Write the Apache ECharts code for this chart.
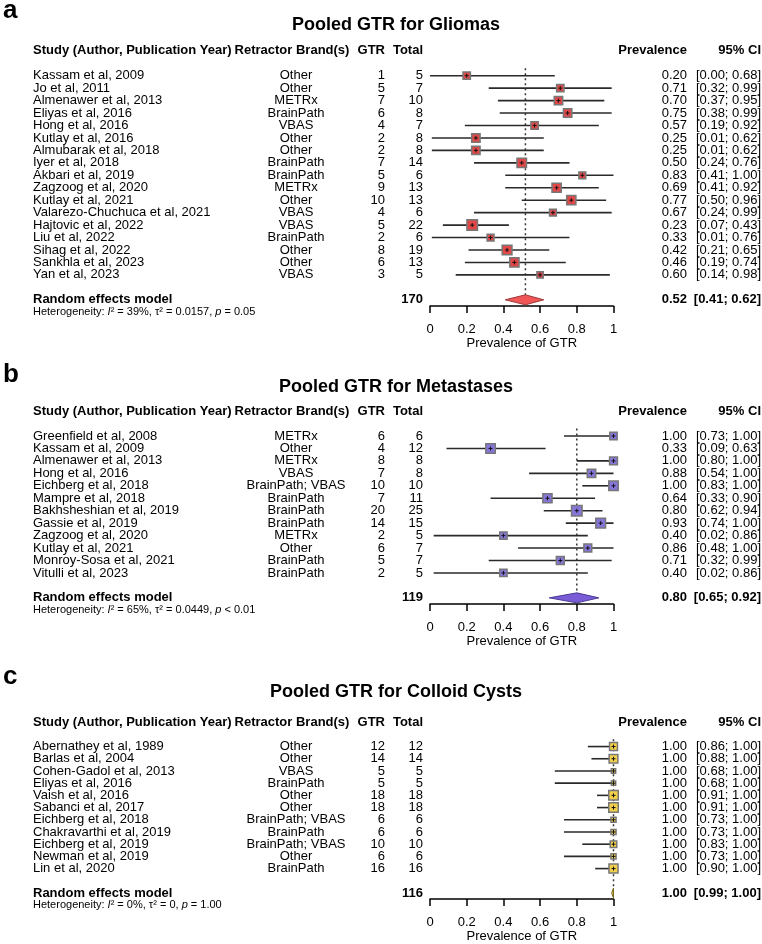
<!DOCTYPE html>
<html>
<head>
<meta charset="utf-8">
<title>Pooled GTR forest plots</title>
<script src="https://cdn.jsdelivr.net/npm/echarts@6/dist/echarts.min.js"></script>
<style>
  html, body { margin: 0; padding: 0; background: #fff; }
  #main { width: 762px; height: 944px; }
</style>
</head>
<body>
<div id="main"></div>
<script>
  // a: gliomas
  var gliomaStudies = ['Kassam et al, 2009', 'Jo et al, 2011', 'Almenawer et al, 2013', 'Eliyas et al, 2016',
    'Hong et al, 2016', 'Kutlay et al, 2016', 'Almubarak et al, 2018', 'Iyer et al, 2018', 'Akbari et al, 2019',
    'Zagzoog et al, 2020', 'Kutlay et al, 2021', 'Valarezo-Chuchuca et al, 2021', 'Hajtovic et al, 2022',
    'Liu et al, 2022', 'Sihag et al, 2022', 'Sankhla et al, 2023', 'Yan et al, 2023']
  var gliomaBrands = ['Other', 'Other', 'METRx', 'BrainPath', 'VBAS', 'Other', 'Other', 'BrainPath', 'BrainPath',
    'METRx', 'Other', 'VBAS', 'VBAS', 'BrainPath', 'Other', 'Other', 'VBAS']
  var gliomaGtr = [1, 5, 7, 6, 4, 2, 2, 7, 5, 9, 10, 4, 5, 2, 8, 6, 3]
  var gliomaTotal = [5, 7, 10, 8, 7, 8, 8, 14, 6, 13, 13, 6, 22, 6, 19, 13, 5]
  var gliomaPrev = [0.20, 0.71, 0.70, 0.75, 0.57, 0.25, 0.25, 0.50, 0.83, 0.69, 0.77, 0.67, 0.23, 0.33, 0.42, 0.46, 0.60]
  var gliomaLower = [0.00, 0.32, 0.37, 0.38, 0.19, 0.01, 0.01, 0.24, 0.41, 0.41, 0.50, 0.24, 0.07, 0.01, 0.21, 0.19, 0.14]
  var gliomaUpper = [0.68, 0.99, 0.95, 0.99, 0.92, 0.62, 0.62, 0.76, 1.00, 0.92, 0.96, 0.99, 0.43, 0.76, 0.65, 0.74, 0.98]
  var gliomaWeight = [4.6, 4.6, 6.0, 6.0, 4.6, 6.0, 6.0, 7.6, 4.0, 7.2, 7.2, 4.0, 9.4, 4.0, 8.1, 7.2, 3.4]
  var gliomaPooled = [0.52, 0.41, 0.62]
  var gliomaHet = ['39%', '0.0157', '= 0.05']

  // b: metastases
  var metStudies = ['Greenfield et al, 2008', 'Kassam et al, 2009', 'Almenawer et al, 2013', 'Hong et al, 2016',
    'Eichberg et al, 2018', 'Mampre et al, 2018', 'Bakhsheshian et al, 2019', 'Gassie et al, 2019',
    'Zagzoog et al, 2020', 'Kutlay et al, 2021', 'Monroy-Sosa et al, 2021', 'Vitulli et al, 2023']
  var metBrands = ['METRx', 'Other', 'METRx', 'VBAS', 'BrainPath; VBAS', 'BrainPath', 'BrainPath', 'BrainPath',
    'METRx', 'Other', 'BrainPath', 'BrainPath']
  var metGtr = [6, 4, 8, 7, 10, 7, 20, 14, 2, 6, 5, 2]
  var metTotal = [6, 12, 8, 8, 10, 11, 25, 15, 5, 7, 7, 5]
  var metPrev = [1.00, 0.33, 1.00, 0.88, 1.00, 0.64, 0.80, 0.93, 0.40, 0.86, 0.71, 0.40]
  var metLower = [0.73, 0.09, 0.80, 0.54, 0.83, 0.33, 0.62, 0.74, 0.02, 0.48, 0.32, 0.02]
  var metUpper = [1.00, 0.63, 1.00, 1.00, 1.00, 0.90, 0.94, 1.00, 0.86, 1.00, 0.99, 0.86]
  var metWeight = [6.1, 10.1, 7.0, 8.0, 10.1, 9.5, 12.5, 10.7, 6.1, 7.0, 7.0, 6.1]
  var metPooled = [0.80, 0.65, 0.92]
  var metHet = ['65%', '0.0449', '< 0.01']

  // c: colloid cysts
  var cystStudies = ['Abernathey et al, 1989', 'Barlas et al, 2004', 'Cohen-Gadol et al, 2013', 'Eliyas et al, 2016',
    'Vaish et al, 2016', 'Sabanci et al, 2017', 'Eichberg et al, 2018', 'Chakravarthi et al, 2019',
    'Eichberg et al, 2019', 'Newman et al, 2019', 'Lin et al, 2020']
  var cystBrands = ['Other', 'Other', 'VBAS', 'BrainPath', 'Other', 'Other', 'BrainPath; VBAS', 'BrainPath',
    'BrainPath; VBAS', 'Other', 'BrainPath']
  var cystGtr = [12, 14, 5, 5, 18, 18, 6, 6, 10, 6, 16]
  var cystTotal = [12, 14, 5, 5, 18, 18, 6, 6, 10, 6, 16]
  var cystPrev = [1.00, 1.00, 1.00, 1.00, 1.00, 1.00, 1.00, 1.00, 1.00, 1.00, 1.00]
  var cystLower = [0.86, 0.88, 0.68, 0.68, 0.91, 0.91, 0.73, 0.73, 0.83, 0.73, 0.90]
  var cystUpper = [1.00, 1.00, 1.00, 1.00, 1.00, 1.00, 1.00, 1.00, 1.00, 1.00, 1.00]
  var cystWeight = [11.2, 13.6, 3.4, 3.4, 16.1, 16.1, 4.7, 4.7, 7.6, 4.7, 14.6]
  var cystPooled = [1.00, 0.99, 1.00]
  var cystHet = ['0%', '0', '= 1.00']

  var FONT = "'Liberation Sans', Arial, Helvetica, sans-serif"
  // x positions of the text columns
  var COL = { study: 33, brand: 296, gtr: 385, total: 423, prev: 687, ci: 761 }
  var PLOT_LEFT = 430
  var PLOT_WIDTH = 183.5

  var panels = [
    {
      letter: 'a', title: 'Pooled GTR for Gliomas', letterY: 11, titleY: 25, y0: 75.7, step: 12.45, box: 10.5,
      fill: '#e24848', diamond: '#f05656', edge: '#9c3a3a',
      studies: gliomaStudies, brands: gliomaBrands, gtr: gliomaGtr, total: gliomaTotal,
      prev: gliomaPrev, lower: gliomaLower, upper: gliomaUpper, weight: gliomaWeight,
      pooled: gliomaPooled, het: gliomaHet,
    },
    {
      letter: 'b', title: 'Pooled GTR for Metastases', letterY: 375, titleY: 387, y0: 436, step: 12.45, box: 10.5,
      fill: '#8676da', diamond: '#7a5cd6', edge: '#4a3a94',
      studies: metStudies, brands: metBrands, gtr: metGtr, total: metTotal,
      prev: metPrev, lower: metLower, upper: metUpper, weight: metWeight,
      pooled: metPooled, het: metHet,
    },
    {
      letter: 'c', title: 'Pooled GTR for Colloid Cysts', letterY: 677, titleY: 692, y0: 746.7, step: 12.35, box: 9.5,
      fill: '#f3d048', diamond: '#f3d048', edge: '#7a6a20',
      studies: cystStudies, brands: cystBrands, gtr: cystGtr, total: cystTotal,
      prev: cystPrev, lower: cystLower, upper: cystUpper, weight: cystWeight,
      pooled: cystPooled, het: cystHet,
    },
  ]

  function txt(str, x, y, align, bold, size) {
    return {
      type: 'text',
      silent: true,
      style: {
        text: str, x: x, y: y, fill: '#000',
        fontFamily: FONT, fontSize: size || 13, fontWeight: bold ? 'bold' : 'normal',
        textAlign: align, textVerticalAlign: 'middle', align: align, verticalAlign: 'middle',
      },
    }
  }

  function ciText(lo, hi) {
    return '[' + lo.toFixed(2) + '; ' + hi.toFixed(2) + ']'
  }

  function studyRenderer(p) {
    var wmax = Math.max.apply(null, p.weight)
    return function (params, api) {
      var i = params.dataIndex
      var row = api.value(1)
      var y = api.coord([0, row])[1]
      var xc = api.coord([api.value(0), row])[0]
      var xl = api.coord([api.value(2), row])[0]
      var xh = api.coord([api.value(3), row])[0]
      var s = p.box * Math.sqrt(api.value(4) / wmax)
      return {
        type: 'group',
        children: [
          txt(p.studies[i], COL.study, y, 'left'),
          txt(p.brands[i], COL.brand, y, 'center'),
          txt(String(p.gtr[i]), COL.gtr, y, 'right'),
          txt(String(p.total[i]), COL.total, y, 'right'),
          txt(api.value(0).toFixed(2), COL.prev, y, 'right'),
          txt(ciText(api.value(2), api.value(3)), COL.ci, y, 'right'),
          { type: 'line', shape: { x1: xl, y1: y, x2: xh, y2: y }, style: { stroke: '#2a2a2a', lineWidth: 1.6 } },
          {
            type: 'rect',
            shape: { x: xc - s / 2, y: y - s / 2, width: s, height: s },
            style: { fill: p.fill, stroke: '#777', lineWidth: 1.5 },
          },
          { type: 'line', shape: { x1: xc - 2, y1: y, x2: xc + 2, y2: y }, style: { stroke: '#111', lineWidth: 1 } },
          { type: 'line', shape: { x1: xc, y1: y - 2, x2: xc, y2: y + 2 }, style: { stroke: '#111', lineWidth: 1 } },
        ],
      }
    }
  }

  function pooledRenderer(p) {
    var total = p.total.reduce(function (a, b) { return a + b }, 0)
    return function (params, api) {
      var row = api.value(1)
      var y = api.coord([0, row])[1]
      var est = api.value(0)
      var xc = api.coord([est, row])[0]
      var xl = api.coord([api.value(2), row])[0]
      var xh = api.coord([api.value(3), row])[0]
      var top = api.coord([est, -0.6])[1]
      var h = 5
      var het = {
        type: 'text',
        silent: true,
        style: {
          text: '{n|Heterogeneity: }{i|I}{n|² = ' + p.het[0] + ', τ² = ' + p.het[1] + ', }{i|p}{n| ' + p.het[2] + '}',
          x: COL.study, y: y + 12, fill: '#000',
          fontFamily: FONT, fontSize: 11,
          textAlign: 'left', textVerticalAlign: 'middle', align: 'left', verticalAlign: 'middle',
          rich: {
            n: { fontFamily: FONT, fontSize: 11, fill: '#000', color: '#000' },
            i: { fontFamily: FONT, fontSize: 11, fontStyle: 'italic', fill: '#000', color: '#000' },
          },
        },
      }
      return {
        type: 'group',
        children: [
          {
            type: 'line',
            shape: { x1: xc, y1: top, x2: xc, y2: y - h },
            style: { stroke: '#333', lineWidth: 1.5, lineDash: [2, 3] },
          },
          {
            type: 'polygon',
            shape: { points: [[xl, y], [xc, y - h], [xh, y], [xc, y + h]] },
            style: { fill: p.diamond, stroke: p.edge, lineWidth: 1 },
          },
          txt('Random effects model', COL.study, y, 'left', true),
          het,
          txt(String(total), COL.total, y, 'right', true),
          txt(est.toFixed(2), COL.prev, y, 'right', true),
          txt(ciText(api.value(2), api.value(3)), COL.ci, y, 'right', true),
        ],
      }
    }
  }

  var grids = []
  var xAxes = []
  var yAxes = []
  var series = []
  var graphics = []

  panels.forEach(function (p, k) {
    var n = p.studies.length
    grids.push({
      left: PLOT_LEFT,
      width: PLOT_WIDTH,
      top: p.y0 - p.step,
      height: p.step * (n + 2.5),
    })
    xAxes.push({
      gridIndex: k,
      type: 'value',
      min: 0,
      max: 1,
      interval: 0.2,
      axisLine: { show: true, onZero: false, lineStyle: { color: '#000', width: 1.5 } },
      axisTick: { show: true, length: 7, lineStyle: { color: '#000', width: 1.5 } },
      axisLabel: { color: '#000', fontSize: 13, fontFamily: FONT, margin: 17 },
      splitLine: { show: false },
      name: 'Prevalence of GTR',
      nameLocation: 'middle',
      nameGap: 30,
      nameTextStyle: { color: '#000', fontSize: 13, fontFamily: FONT },
    })
    yAxes.push({
      gridIndex: k,
      type: 'value',
      min: -1,
      max: n + 1.5,
      inverse: true,
      show: false,
    })

    series.push({
      type: 'custom',
      xAxisIndex: k,
      yAxisIndex: k,
      clip: false,
      silent: true,
      z: 1,
      renderItem: pooledRenderer(p),
      data: [[p.pooled[0], n + 1, p.pooled[1], p.pooled[2]]],
    })
    series.push({
      type: 'custom',
      xAxisIndex: k,
      yAxisIndex: k,
      clip: false,
      silent: true,
      z: 2,
      renderItem: studyRenderer(p),
      data: p.prev.map(function (v, i) {
        return [v, i, p.lower[i], p.upper[i], p.weight[i]]
      }),
    })

    var hy = p.y0 - 2 * p.step
    graphics.push(txt(p.letter, 3, p.letterY, 'left', true, 26))
    graphics.push(txt(p.title, 396, p.titleY, 'center', true, 18))
    graphics.push(txt('Study (Author, Publication Year)', COL.study, hy, 'left', true))
    graphics.push(txt('Retractor Brand(s)', 292, hy, 'center', true))
    graphics.push(txt('GTR', COL.gtr, hy, 'right', true))
    graphics.push(txt('Total', COL.total, hy, 'right', true))
    graphics.push(txt('Prevalence', COL.prev, hy, 'right', true))
    graphics.push(txt('95% CI', COL.ci, hy, 'right', true))
  })

  var chart = echarts.init(document.getElementById('main'), null, { renderer: 'canvas' })
  chart.setOption({
    backgroundColor: '#fff',
    animation: false,
    grid: grids,
    xAxis: xAxes,
    yAxis: yAxes,
    series: series,
    graphic: graphics,
  })
</script>
</body>
</html>
